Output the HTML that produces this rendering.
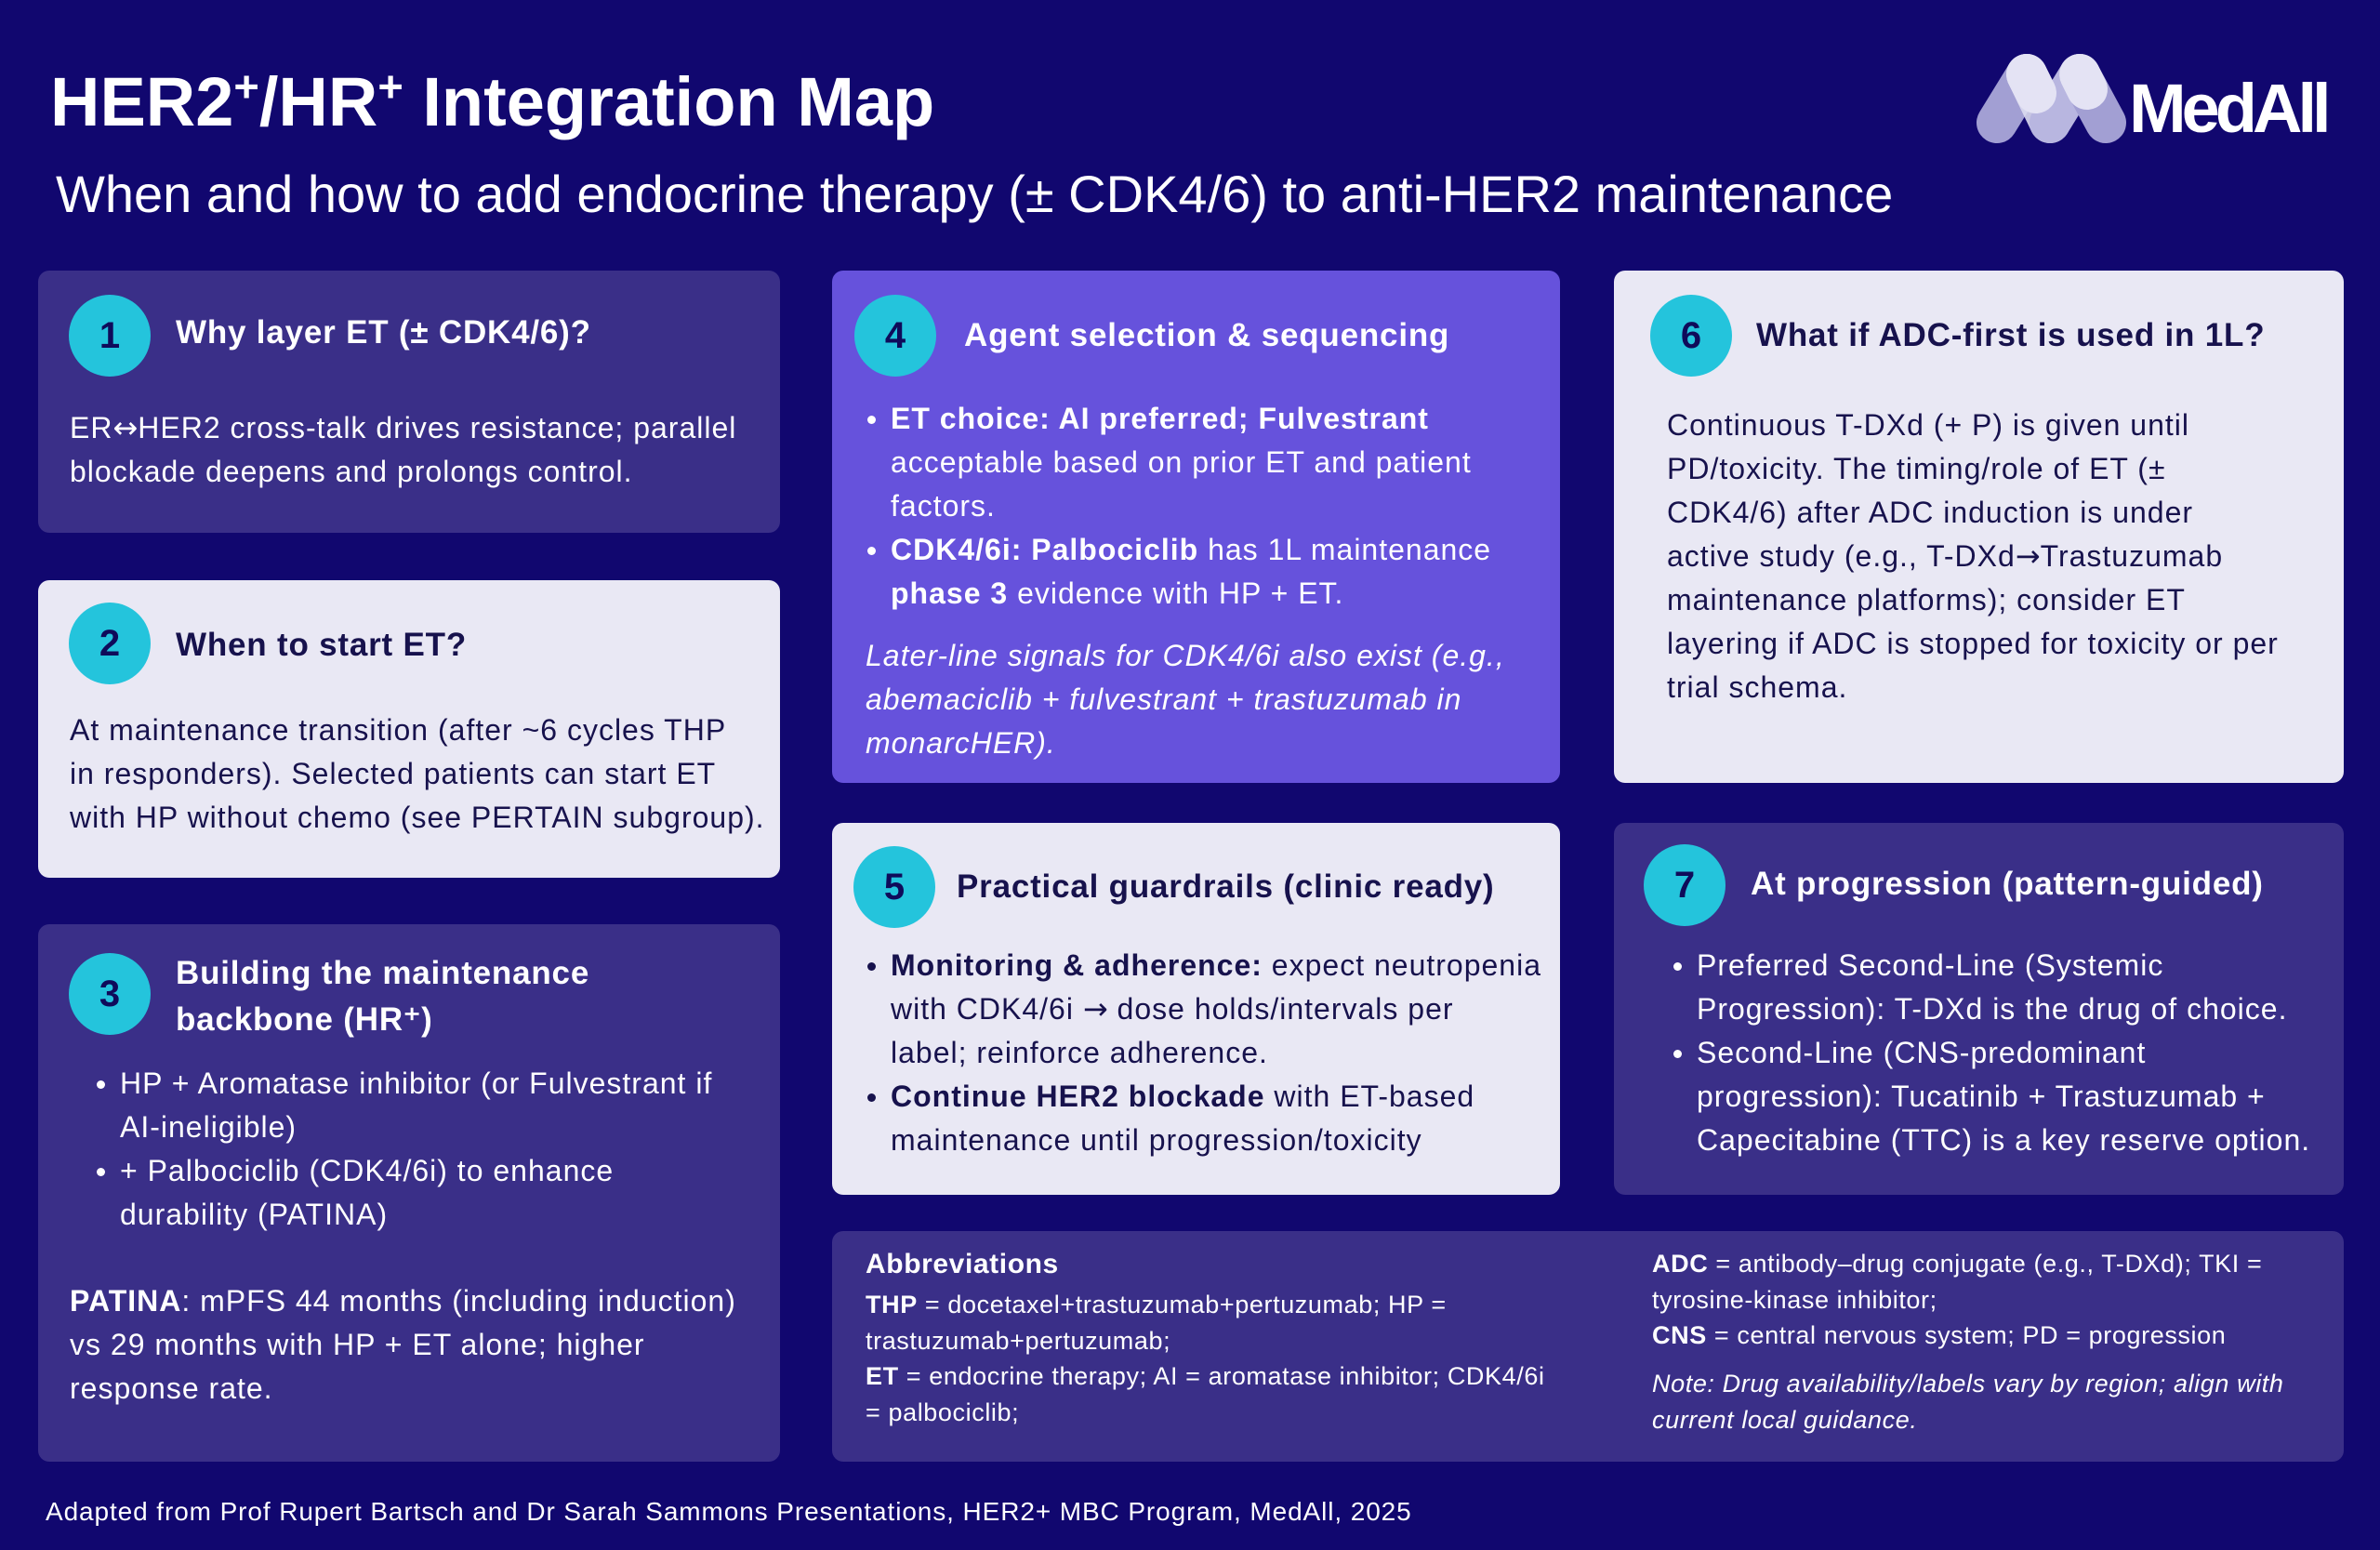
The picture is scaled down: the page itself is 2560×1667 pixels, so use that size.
<!DOCTYPE html>
<html><head><meta charset="utf-8"><style>
*{margin:0;padding:0;box-sizing:border-box}
body{width:2560px;height:1667px;background:#11076f;font-family:"Liberation Sans",Arial,sans-serif;position:relative;overflow:hidden;color:#fff}
.a{position:absolute;white-space:nowrap}
.card{position:absolute;border-radius:12px}
.dk{background:#3a2f88}
.lt{background:#e9e8f4;color:#17124d}
.pu{background:#6652dc}
.c{position:absolute;width:88px;height:88px;border-radius:50%;background:#24c4dc;color:#0f0b5a;font-weight:bold;font-size:40px;line-height:88px;text-align:center}
.h{position:absolute;font-weight:bold;font-size:35px;white-space:nowrap;line-height:50px;letter-spacing:0.8px}
.b{position:absolute;font-size:32px;line-height:47px;white-space:nowrap;letter-spacing:1px}
.lt .b,.lt .h{color:#17124d}
.bl{position:relative}
.bl::before{content:"";position:absolute;left:-25px;top:20px;width:9px;height:9px;border-radius:50%;background:currentColor}
.ab{position:absolute;font-size:27px;line-height:38.5px;white-space:nowrap;letter-spacing:0.6px}
.ar{font-family:"DejaVu Sans",sans-serif;letter-spacing:0}
</style></head><body>
<div class="a" style="left:54px;top:48px;font-size:74px;font-weight:bold;line-height:90px">HER2<sup style="font-size:47px;vertical-align:26px">+</sup>/HR<sup style="font-size:47px;vertical-align:26px">+</sup> Integration Map</div>
<div class="a" style="left:60px;top:176px;font-size:56px;line-height:66px">When and how to add endocrine therapy (± CDK4/6) to anti-HER2 maintenance</div>
<svg class="a" style="left:2100px;top:50px" width="200" height="130" viewBox="2100 50 200 130">
<g stroke-linecap="round" stroke-width="44" fill="none">
<line x1="2148" y1="132" x2="2180" y2="80" stroke="#a29fd3"/>
<line x1="2180" y1="80" x2="2205" y2="132" stroke="#dcdbf0" opacity=".9"/>
<line x1="2205" y1="132" x2="2237" y2="80" stroke="#b8b6e0"/>
<line x1="2237" y1="80" x2="2265" y2="132" stroke="#a29fd3"/>
<line x1="2237" y1="80" x2="2245" y2="96" stroke="#e4e3f4"/>
<line x1="2180" y1="80" x2="2190" y2="100" stroke="#e4e3f4"/>
</g></svg>
<div class="a" style="left:2290px;top:72px;font-size:74px;font-weight:bold;letter-spacing:-5px;line-height:90px">MedAll</div>

<div class="card dk" style="left:41px;top:291px;width:798px;height:282px"></div>
<div class="c" style="left:74px;top:317px">1</div>
<div class="h" style="left:189px;top:333px">Why layer ET (± CDK4/6)?</div>
<div class="b" style="left:75px;top:437px">ER<span class="ar">↔</span>HER2 cross-talk drives resistance; parallel<br>blockade deepens and prolongs control.</div>

<div class="card lt" style="left:41px;top:624px;width:798px;height:320px"><div class="c" style="left:33px;top:24px">2</div>
<div class="h" style="left:148px;top:45px">When to start ET?</div>
<div class="b" style="left:34px;top:138px">At maintenance transition (after ~6 cycles THP<br>in responders). Selected patients can start ET<br>with HP without chemo (see PERTAIN subgroup).</div></div>

<div class="card dk" style="left:41px;top:994px;width:798px;height:578px"></div>
<div class="c" style="left:74px;top:1025px">3</div>
<div class="h" style="left:189px;top:1022px">Building the maintenance<br>backbone (HR⁺)</div>
<div class="b" style="left:129px;top:1142px"><div class="bl">HP + Aromatase inhibitor (or Fulvestrant if</div>AI-ineligible)<div class="bl">+ Palbociclib (CDK4/6i) to enhance</div>durability (PATINA)</div>
<div class="b" style="left:75px;top:1376px"><b>PATINA</b>: mPFS 44 months (including induction)<br>vs 29 months with HP + ET alone; higher<br>response rate.</div>

<div class="card pu" style="left:895px;top:291px;width:783px;height:551px"></div>
<div class="c" style="left:919px;top:317px">4</div>
<div class="h" style="left:1037px;top:336px">Agent selection &amp; sequencing</div>
<div class="b" style="left:958px;top:427px"><div class="bl"><b>ET choice: AI preferred; Fulvestrant</b></div>acceptable based on prior ET and patient<br>factors.<div class="bl"><b>CDK4/6i: Palbociclib</b> has 1L maintenance</div><b>phase 3</b> evidence with HP + ET.</div>
<div class="b" style="left:931px;top:682px;font-style:italic">Later-line signals for CDK4/6i also exist (e.g.,<br>abemaciclib + fulvestrant + trastuzumab in<br>monarcHER).</div>

<div class="card lt" style="left:895px;top:885px;width:783px;height:400px"><div class="c" style="left:23px;top:25px">5</div>
<div class="h" style="left:134px;top:44px">Practical guardrails (clinic ready)</div>
<div class="b" style="left:63px;top:130px"><div class="bl"><b>Monitoring &amp; adherence:</b> expect neutropenia</div>with CDK4/6i <span class="ar">→</span> dose holds/intervals per<br>label; reinforce adherence.<div class="bl"><b>Continue HER2 blockade</b> with ET-based</div>maintenance until progression/toxicity</div></div>

<div class="card lt" style="left:1736px;top:291px;width:785px;height:551px"><div class="c" style="left:39px;top:26px">6</div>
<div class="h" style="left:153px;top:45px">What if ADC-first is used in 1L?</div>
<div class="b" style="left:57px;top:143px">Continuous T-DXd (+ P) is given until<br>PD/toxicity. The timing/role of ET (±<br>CDK4/6) after ADC induction is under<br>active study (e.g., T-DXd<span class="ar">→</span>Trastuzumab<br>maintenance platforms); consider ET<br>layering if ADC is stopped for toxicity or per<br>trial schema.</div></div>

<div class="card dk" style="left:1736px;top:885px;width:785px;height:400px"></div>
<div class="c" style="left:1768px;top:908px">7</div>
<div class="h" style="left:1883px;top:926px">At progression (pattern-guided)</div>
<div class="b" style="left:1825px;top:1015px"><div class="bl">Preferred Second-Line (Systemic</div>Progression): T-DXd is the drug of choice.<div class="bl">Second-Line (CNS-predominant</div>progression): Tucatinib + Trastuzumab +<br>Capecitabine (TTC) is a key reserve option.</div>

<div class="card dk" style="left:895px;top:1324px;width:1626px;height:248px"></div>
<div class="a" style="left:931px;top:1341px;font-size:30px;font-weight:bold;line-height:38px;letter-spacing:0.6px">Abbreviations</div>
<div class="ab" style="left:931px;top:1384px"><b>THP</b> = docetaxel+trastuzumab+pertuzumab; HP =<br>trastuzumab+pertuzumab;<br><b>ET</b> = endocrine therapy; AI = aromatase inhibitor; CDK4/6i<br>= palbociclib;</div>
<div class="ab" style="left:1777px;top:1340px"><b>ADC</b> = antibody–drug conjugate (e.g., T-DXd); TKI =<br>tyrosine-kinase inhibitor;<br><b>CNS</b> = central nervous system; PD = progression</div>
<div class="ab" style="left:1777px;top:1469px;font-style:italic">Note: Drug availability/labels vary by region; align with<br>current local guidance.</div>

<div class="a" style="left:49px;top:1609px;font-size:28px;line-height:34px;letter-spacing:0.9px">Adapted from Prof Rupert Bartsch and Dr Sarah Sammons Presentations, HER2+ MBC Program, MedAll, 2025</div>
</body></html>
